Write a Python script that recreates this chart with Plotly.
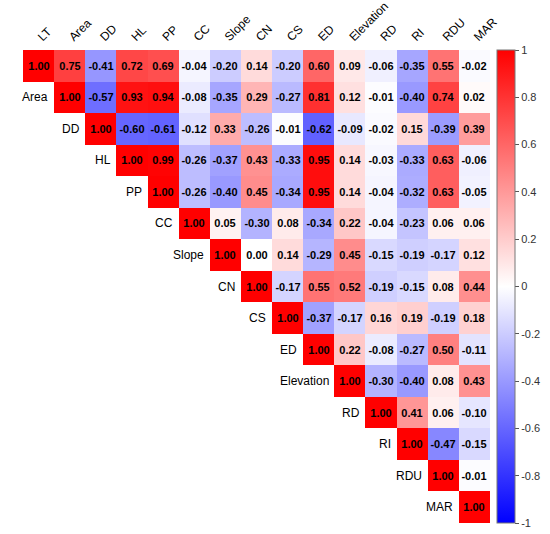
import plotly.graph_objects as go

variables = ["LT", "Area", "DD", "HL", "PP", "CC", "Slope", "CN", "CS", "ED",
             "Elevation", "RD", "RI", "RDU", "MAR"]

# upper-triangle rows of the correlation matrix (diagonal onwards)
r_LT = [1.00, 0.75, -0.41, 0.72, 0.69, -0.04, -0.20, 0.14, -0.20, 0.60, 0.09, -0.06, -0.35, 0.55, -0.02]
r_Area = [1.00, -0.57, 0.93, 0.94, -0.08, -0.35, 0.29, -0.27, 0.81, 0.12, -0.01, -0.40, 0.74, 0.02]
r_DD = [1.00, -0.60, -0.61, -0.12, 0.33, -0.26, -0.01, -0.62, -0.09, -0.02, 0.15, -0.39, 0.39]
r_HL = [1.00, 0.99, -0.26, -0.37, 0.43, -0.33, 0.95, 0.14, -0.03, -0.33, 0.63, -0.06]
r_PP = [1.00, -0.26, -0.40, 0.45, -0.34, 0.95, 0.14, -0.04, -0.32, 0.63, -0.05]
r_CC = [1.00, 0.05, -0.30, 0.08, -0.34, 0.22, -0.04, -0.23, 0.06, 0.06]
r_Slope = [1.00, 0.00, 0.14, -0.29, 0.45, -0.15, -0.19, -0.17, 0.12]
r_CN = [1.00, -0.17, 0.55, 0.52, -0.19, -0.15, 0.08, 0.44]
r_CS = [1.00, -0.37, -0.17, 0.16, 0.19, -0.19, 0.18]
r_ED = [1.00, 0.22, -0.08, -0.27, 0.50, -0.11]
r_Elevation = [1.00, -0.30, -0.40, 0.08, 0.43]
r_RD = [1.00, 0.41, 0.06, -0.10]
r_RI = [1.00, -0.47, -0.15]
r_RDU = [1.00, -0.01]
r_MAR = [1.00]

cbar_vals = [1, 0.8, 0.6, 0.4, 0.2, 0, -0.2, -0.4, -0.6, -0.8, -1]
cbar_text = ["1", "0.8", "0.6", "0.4", "0.2", "0", "-0.2", "-0.4", "-0.6", "-0.8", "-1"]

rows = [r_LT, r_Area, r_DD, r_HL, r_PP, r_CC, r_Slope, r_CN, r_CS, r_ED,
        r_Elevation, r_RD, r_RI, r_RDU, r_MAR]

n = len(variables)
z = []
txt = []
for i, r in enumerate(rows):
    zr = [None] * i + r
    z.append(zr)
    txt.append(["" if v is None else "%.2f" % v for v in zr])

fig = go.Figure(go.Heatmap(
    z=z, x=variables, y=variables,
    text=txt, texttemplate="<b>%{text}</b>",
    textfont=dict(size=11, color="black", family="Liberation Sans"),
    zmin=-1, zmax=1,
    colorscale=[[0, "rgb(0,0,255)"], [0.5, "rgb(255,255,255)"], [1, "rgb(255,0,0)"]],
    xgap=0, ygap=0,
    colorbar=dict(
        x=1.015, xanchor="left", xpad=0, ypad=0,
        y=0.5, len=1, lenmode="fraction", thickness=18,
        outlinewidth=1, outlinecolor="#777",
        tickvals=cbar_vals, ticktext=cbar_text,
        ticks="outside", ticklen=4, tickcolor="#555",
        tickfont=dict(size=11, color="#333", family="Liberation Sans"),
    ),
    hoverongaps=False,
))

# row labels to the left of the diagonal
for i, name in enumerate(variables):
    fig.add_annotation(x=i - 0.62, y=i, xref="x", yref="y", text=name,
                       showarrow=False, xanchor="right", yanchor="middle",
                       font=dict(size=12, color="black", family="Liberation Sans"))

fig.update_layout(
    width=550, height=534,
    margin=dict(l=23, r=60, t=50, b=11, autoexpand=False),
    plot_bgcolor="white", paper_bgcolor="white",
    xaxis=dict(side="top", tickangle=-45, showgrid=False, zeroline=False,
               ticks="", automargin=False, ticklabelstandoff=3,
               tickfont=dict(size=12, color="black", family="Liberation Sans"),
               range=[-0.5, n - 0.5]),
    yaxis=dict(autorange="reversed", showgrid=False, zeroline=False,
               showticklabels=False, ticks="", automargin=False),
)

# drop the page's default body margin so the figure fills the window
fig.write_html("out.html", config={"displayModeBar": False},
               post_script="document.body.style.margin='0px';")
